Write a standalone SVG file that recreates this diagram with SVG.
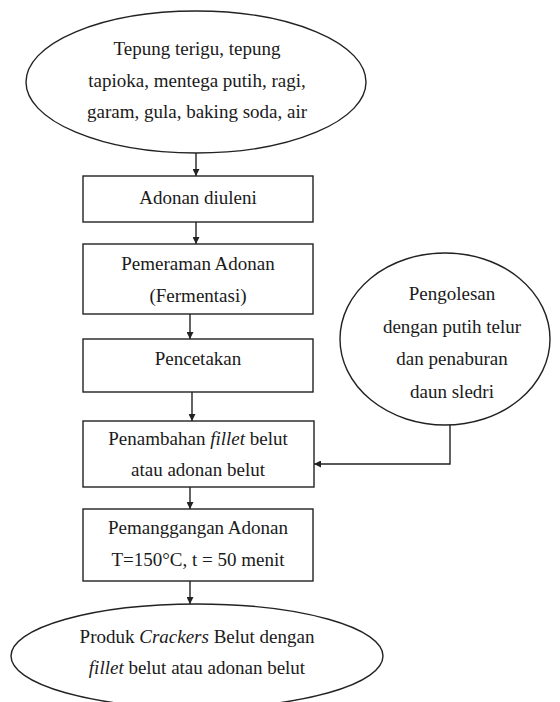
<svg xmlns="http://www.w3.org/2000/svg" width="560" height="702" viewBox="0 0 560 702">
<style>
.s{fill:#fff;stroke:#222;stroke-width:1.4}
.t{font-family:"Liberation Serif","Times New Roman",serif;font-size:19px;fill:#1a1a1a;text-anchor:middle}
.c{fill:none;stroke:#222;stroke-width:1.4}
</style>
<defs>
<marker id="a" viewBox="0 0 10 10" refX="10" refY="5" markerWidth="7" markerHeight="7" orient="auto" markerUnits="userSpaceOnUse">
<path d="M0,0L10,5L0,10z" fill="#222"/>
</marker>
</defs>
<rect width="560" height="702" fill="#fff"/>
<g id="connectors">
<line class="c" x1="196" y1="153" x2="196" y2="176" marker-end="url(#a)"/>
<line class="c" x1="196" y1="222" x2="196" y2="244" marker-end="url(#a)"/>
<line class="c" x1="190" y1="314" x2="190" y2="339" marker-end="url(#a)"/>
<line class="c" x1="192" y1="392" x2="192" y2="421" marker-end="url(#a)"/>
<polyline class="c" points="450,425 450,464 314,464" marker-end="url(#a)"/>
<line class="c" x1="190" y1="487" x2="190" y2="509" marker-end="url(#a)"/>
<line class="c" x1="190" y1="581" x2="190" y2="604" marker-end="url(#a)"/>
</g>
<g id="n1">
<ellipse class="s" cx="196" cy="82" rx="170" ry="71"/>
<text class="t" x="197" y="55">Tepung terigu, tepung</text>
<text class="t" x="197" y="87">tapioka, mentega putih, ragi,</text>
<text class="t" x="197" y="118">garam, gula, baking soda, air</text>
</g>
<g id="n2">
<rect class="s" x="83" y="176" width="230" height="46"/>
<text class="t" x="198" y="204">Adonan diuleni</text>
</g>
<g id="n3">
<rect class="s" x="83" y="244" width="230" height="70"/>
<text class="t" x="198" y="270">Pemeraman Adonan</text>
<text class="t" x="198" y="302">(Fermentasi)</text>
</g>
<g id="n4">
<rect class="s" x="83" y="339" width="230" height="53"/>
<text class="t" x="198" y="365">Pencetakan</text>
</g>
<g id="n5">
<ellipse class="s" cx="445" cy="339" rx="105" ry="86"/>
<text class="t" x="452" y="300">Pengolesan</text>
<text class="t" x="452" y="333">dengan putih telur</text>
<text class="t" x="452" y="365">dan penaburan</text>
<text class="t" x="452" y="398">daun sledri</text>
</g>
<g id="n6">
<rect class="s" x="83" y="421" width="231" height="66"/>
<text class="t" x="198" y="445">Penambahan <tspan font-style="italic">fillet</tspan> belut</text>
<text class="t" x="198" y="476">atau adonan belut</text>
</g>
<g id="n7">
<rect class="s" x="83" y="509" width="230" height="72"/>
<text class="t" x="198" y="534">Pemanggangan Adonan</text>
<text class="t" x="198" y="566">T=150°C, t = 50 menit</text>
</g>
<g id="n8">
<ellipse class="s" cx="197" cy="656" rx="186" ry="52"/>
<text class="t" x="197" y="643">Produk <tspan font-style="italic">Crackers</tspan> Belut dengan</text>
<text class="t" x="197" y="674"><tspan font-style="italic">fillet</tspan> belut atau adonan belut</text>
</g>
</svg>
